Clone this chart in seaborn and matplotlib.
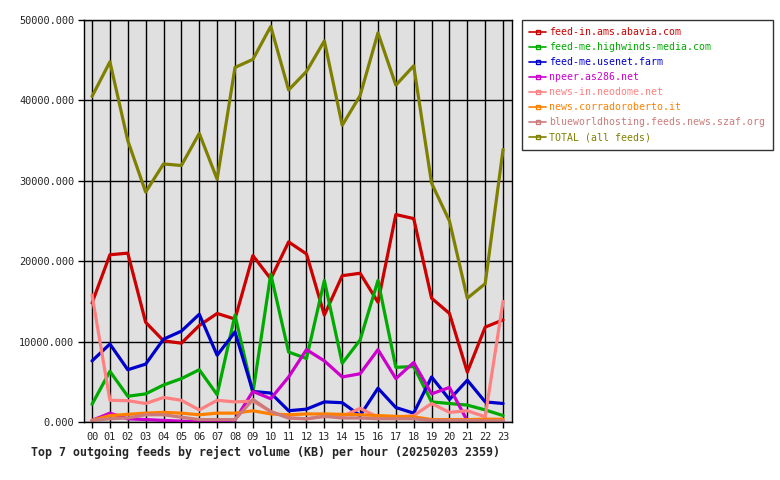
import numpy as np
import pandas as pd
import matplotlib
matplotlib.use("Agg")
import matplotlib.pyplot as plt
from matplotlib.lines import Line2D
import seaborn as sns

hours = ["%02d" % h for h in range(24)]

feeds = ["feed-in.ams.abavia.com", "feed-me.highwinds-media.com", "feed-me.usenet.farm",
         "npeer.as286.net", "news-in.neodome.net", "news.corradoroberto.it",
         "blueworldhosting.feeds.news.szaf.org", "TOTAL (all feeds)"]
colors = ["#cc0000", "#00aa00", "#0000cc", "#cc00cc", "#ff8080", "#ff8000", "#cc7b7b", "#808000"]

abavia = [14800, 20800, 21000, 12400, 10100, 9800, 12000, 13500, 12800, 20700, 17800, 22400,
          20900, 13300, 18200, 18500, 14900, 25800, 25300, 15400, 13500, 6200, 11800, 12700]
highwinds = [2200, 6300, 3200, 3500, 4600, 5400, 6500, 3400, 13300, 3600, 18400, 8700,
             7900, 17600, 7300, 10200, 17600, 6800, 6900, 2500, 2300, 2100, 1500, 800]
usenet = [7600, 9700, 6500, 7200, 10300, 11300, 13400, 8300, 11200, 3800, 3600, 1400,
          1600, 2500, 2400, 800, 4200, 1800, 1100, 5600, 2800, 5200, 2500, 2300]
npeer = [200, 1100, 400, 300, 200, 100, 50, 50, 250, 3800, 2900, 5600,
         9000, 7600, 5600, 6000, 9000, 5400, 7400, 3500, 4300, 150, 50, 50]
neodome = [15800, 2700, 2650, 2300, 3050, 2700, 1500, 2700, 2500, 2600, 1300, 500,
           400, 700, 700, 1700, 600, 600, 800, 2300, 1200, 1400, 650, 15000]
corrado = [200, 800, 950, 1100, 1200, 1100, 900, 1100, 1100, 1400, 1000, 900,
           1000, 1000, 950, 900, 800, 700, 650, 300, 300, 300, 350, 350]
blueworld = [200, 400, 500, 900, 900, 600, 300, 300, 300, 2800, 1300, 500,
             400, 700, 500, 500, 400, 400, 400, 200, 200, 200, 150, 150]
total = [40500, 44800, 35000, 28600, 32100, 31900, 35900, 30200, 44100, 45100, 49200, 41300,
         43600, 47400, 36900, 40600, 48400, 41900, 44300, 29700, 25000, 15400, 17200, 33900]

series = [abavia, highwinds, usenet, npeer, neodome, corrado, blueworld, total]

rows = []
for name, vals in zip(feeds, series):
    for h, v in enumerate(vals):
        rows.append({"hour": h, "kb": v, "feed": name})
df = pd.DataFrame(rows)

sns.set_style("white")
plt.rcParams["font.family"] = ["DejaVu Sans Mono"]

fig = plt.figure(figsize=(7.8, 4.8), dpi=100)
ax = fig.add_axes([84 / 780, 1 - 422 / 480, 428 / 780, 402 / 480])
ax.set_facecolor("#e0e0e0")

sns.lineplot(data=df, x="hour", y="kb", hue="feed", hue_order=feeds,
             palette=colors, linewidth=2.3, legend=False, ax=ax)

ax.set_xlim(-0.45, 23.5)
ax.set_ylim(0, 50000)
ax.set_xticks(range(24))
ax.set_xticklabels(hours)
ax.set_yticks(np.arange(0, 50001, 10000))
ax.set_yticklabels(["%.3f" % v for v in np.arange(0, 50001, 10000)])
ax.grid(True, color="black", linewidth=1)
ax.set_axisbelow(True)
for s in ax.spines.values():
    s.set_color("black")
    s.set_linewidth(1)
ax.tick_params(axis="both", direction="out", length=4, width=1, color="black",
               labelsize=7.4, pad=3, left=True, bottom=True)
ax.set_xlabel("")
ax.set_ylabel("")

fig.text(31 / 780, 1 - 452 / 480, "Top 7 outgoing feeds by reject volume (KB) per hour (20250203 2359)",
         fontsize=8.35, fontweight="bold", ha="left", va="center")

handles = [Line2D([0], [0], color=c, linewidth=1.2, marker="s", markersize=2.5,
                  markerfacecolor="none", markeredgecolor=c) for c in colors]
leg = fig.legend(handles, feeds, loc="upper left", bbox_to_anchor=(522 / 780, 1 - 20 / 480),
                 frameon=True, fancybox=False, edgecolor="black", fontsize=7.15,
                 labelcolor=colors, handlelength=1.7, handletextpad=0.3,
                 labelspacing=0.5, borderpad=0.75, borderaxespad=0)
leg.get_frame().set_linewidth(1)

fig.savefig("out.png", dpi=100)
